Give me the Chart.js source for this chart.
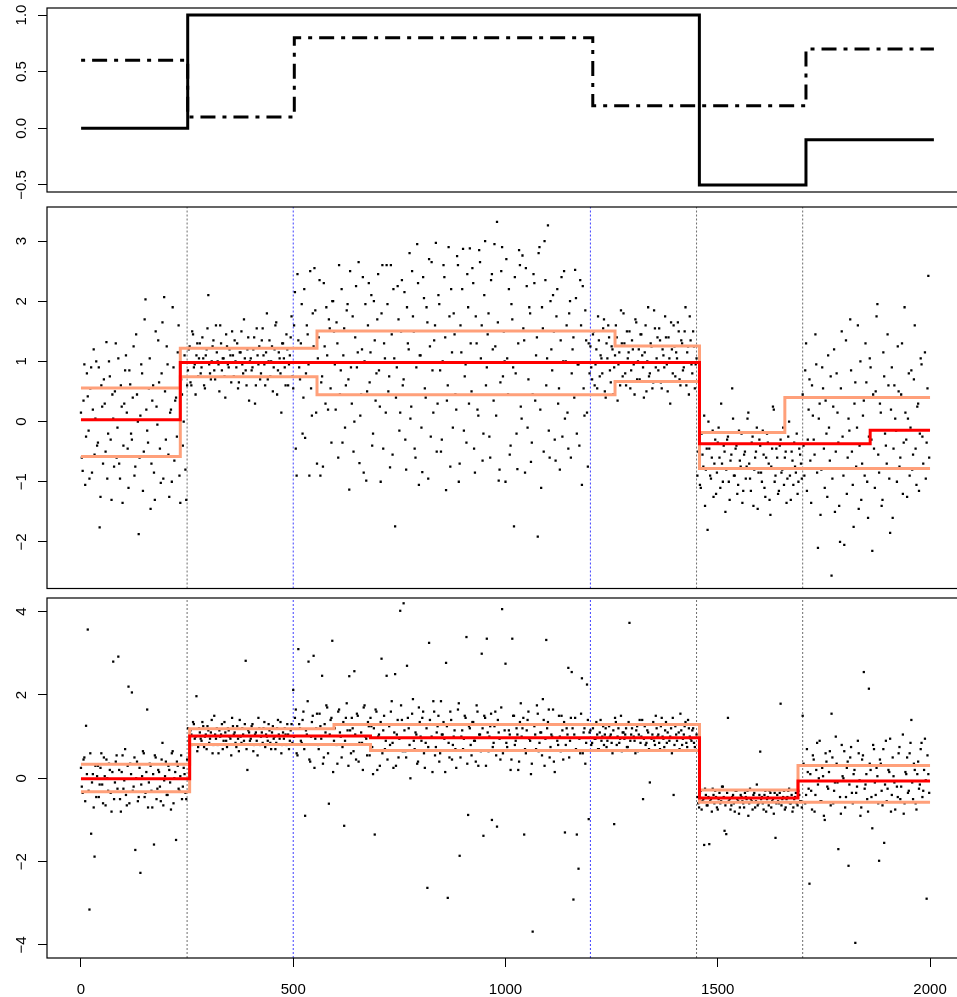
<!DOCTYPE html>
<html>
<head>
<meta charset="utf-8">
<script src="https://cdn.jsdelivr.net/npm/chart.js@4.4.1/dist/chart.umd.min.js"></script>
<style>
  html, body { margin: 0; padding: 0; background: #fff; overflow: hidden; }
  .panel { position: absolute; left: 0; }
  canvas { display: block; }
</style>
</head>
<body>
<div class="panel" style="top:0px"><canvas id="c1" width="968" height="200"></canvas></div>
<div class="panel" style="top:200px"><canvas id="c2" width="968" height="395"></canvas></div>
<div class="panel" style="top:590px"><canvas id="c3" width="968" height="407"></canvas></div>
<script>
// observations: series A at time 4i, series B at time 4i+2
const obsStep = 4;
const xEnd = 2000;
const xTicks = [0, 500, 1000, 1500, 2000];
const xLabels = ['0', '500', '1000', '1500', '2000'];

// top panel: true mean (solid) and true sd (dot-dash)
const meanStarts = [0, 250, 1450, 1700];
const trueMean = [0, 1, -0.5, -0.1];
const sdStarts = [0, 250, 500, 1200, 1700];
const trueSd = [0.6, 0.1, 0.8, 0.2, 0.7];
const topTicks = [-0.5, 0, 0.5, 1];
const topLabels = ['\u22120.5', '0.0', '0.5', '1.0'];

// vertical markers
const changePoints = [250, 1450, 1700];
const sdPoints = [500, 1200];

// middle panel
const midTicks = [-2, -1, 0, 1, 2, 3];
const midLabels = ['\u22122', '\u22121', '0', '1', '2', '3'];
const midY = [
  0.15, -0.82, 0.95, -0.25, 0.42, -0.95, 0.9, 0.2, -0.55, 1.0,
  -0.35, -1.76, 0.6, -0.7, 0.3, 1.32, -0.2, 0.75, -1.3, 0.05,
  0.5, -0.6, 1.05, -0.95, 0.25, -0.4, 0.85, 0.15, -1.1, 0.62,
  -0.3, 1.25, -0.75, 0.45, -1.87, 0.1, 0.8, -0.5, 2.03, -0.15,
  0.55, -1.45, 0.35, -0.85, 1.5, -0.05, 0.65, -1.02, 1.65, 2.07,
  -0.3, 0.95, -1.25, 0.2, 1.9, -0.65, 0.4, 1.15, -0.9, 0.7,
  -0.4, 1.1, -1.3, 0.85, 1.25, 0.6, 1.45, 0.95, 1.1, 0.75,
  1.3, 0.9, 1.05, 0.55, 1.2, 2.1, 0.8, 1.0, 1.35, 0.7,
  1.15, 0.95, 1.6, 0.85, 1.05, 0.4, 1.25, 0.9, 1.1, 1.5,
  0.75, 1.0, 1.3, 0.65, 1.15, 0.95, 1.7, 0.85, 1.2, 0.35,
  1.05, 0.9, 1.4, 0.6, 1.1, 1.25, 0.8, 1.55, 0.95, 1.15,
  0.7, 1.35, 1.0, 0.5, 1.2, 1.65, 0.85, 1.05, 0.15, 1.3,
  0.9, 1.45, 0.6, 1.1, 1.75, 0.55, 2.15, -0.9, 1.35, 0.7,
  1.95, 0.4, -0.27, 1.6, 0.95, 2.5, 0.1, 1.25, 1.85, -0.7,
  1.4, -0.9, 0.75, 2.3, 0.3, 1.1, 1.7, 0.55, 2.0, 1.5,
  0.2, 1.3, 2.6, 0.85, -0.35, 1.55, 0.6, 1.95, -1.13, 0.9,
  1.75, 0.0, 2.25, 1.15, -0.69, 0.45, 2.4, 1.0, -0.98, 1.6,
  0.65, 2.1, -0.2, 1.35, 0.8, 2.45, 0.25, 1.8, -0.45, 1.05,
  2.6, 0.5, -0.76, 1.45, 2.2, -1.74, 0.9, 1.7, 0.15, 2.35,
  0.7, -0.3, 1.9, 1.2, 0.05, 2.5, 1.5, -0.6, 2.95, -1.05,
  1.1, -0.84, 2.05, 0.4, 1.65, 2.7, -0.25, 0.85, 1.35, 2.97,
  0.3, 1.95, -0.5, 1.0, 2.4, -1.14, 0.6, 1.75, 2.2, -0.1,
  1.45, 0.2, 2.6, -0.7, 1.15, 2.87, 0.75, -0.35, 1.9, 2.88,
  0.5, 2.3, -0.85, 1.3, 0.1, 2.65, 1.6, -0.2, 3.0, 0.9,
  1.8, -0.6, 2.45, 0.35, 1.25, 3.32, -0.98, 0.65, 2.9, 1.5,
  -1.0, 1.05, 2.2, -0.4, 1.7, -1.74, 0.8, -0.79, 2.85, 0.25,
  2.76, 1.35, 2.55, -0.1, 1.9, -0.67, 0.45, 2.3, 1.1, -1.91,
  2.9, -1.1, 1.55, 3.0, 0.6, 3.26, -0.6, 1.2, 2.1, -0.3,
  1.75, 0.3, -0.8, 2.4, 1.0, 0.05, 1.6, -0.45, 2.0, 0.8,
  1.4, 2.52, -0.2, 0.95, 2.35, -1.05, 0.55, 1.85, 0.15, 1.3,
  1.25, 0.7, 1.5, 0.95, 0.55, 1.35, 1.1, 0.8, 1.7, 0.4,
  1.05, 1.4, 0.65, 1.2, 0.9, 1.6, 0.35, 1.15, 1.85, 0.75,
  1.3, 0.6, 1.05, 1.5, 0.85, 1.2, 0.45, 1.65, 1.0, 0.7,
  1.45, 0.9, 1.15, 0.5, 1.9, 0.8, 1.25, 0.65, 1.55, 1.05,
  0.85, 1.35, 0.55, 1.1, 1.75, 0.95, 1.4, 0.3, 1.2, 1.6,
  0.75, 1.05, 1.5, 0.6, 1.3, 0.9, 1.9, 1.15, 0.45, 1.35,
  0.8, 1.25, 0.95, -0.9, -0.3, -1.1, -0.55, 0.1, -0.8, -1.8,
  -0.45, -0.95, -0.15, -0.7, -1.2, -0.35, -0.6, 0.3, -1.0, -0.5,
  -0.8, -0.25, -1.3, -0.55, 0.05, -0.9, -0.4, -1.05, -0.65, -0.2,
  -1.15, -0.5, -0.75, 0.15, -0.95, -0.35, -1.4, -0.6, -0.1, -0.85,
  -0.4, -1.0, -0.55, -1.25, -0.2, -0.7, -1.55, -0.45, 0.2, -0.9,
  -0.6, -1.15, -0.3, -0.8, -1.05, -0.5, -0.95, 0.0, -1.3, -0.65,
  -0.35, -0.85, -1.2, -0.45, -0.7, 0.45, -0.9, 1.3, -0.3, 0.7,
  -1.35, 0.1, -0.55, 0.95, -2.1, 0.3, -0.8, 0.55, -1.1, -0.2,
  1.1, -0.65, -2.56, 0.25, -1.5, 0.8, -0.35, -2.0, 1.5, -0.9,
  0.4, -1.2, 0.05, 1.7, -0.5, -1.75, 0.65, -0.1, -1.45, 1.0,
  -0.7, 0.35, 1.3, -1.0, -0.25, 0.9, -2.15, -0.45, 0.5, 1.95,
  -0.85, 0.15, -1.3, 0.75, -0.4, 1.45, -0.95, 0.2, -1.6, 0.6,
  -0.15, 1.25, -0.75, 0.45, -1.2, 1.9, -0.3, 0.05, -0.9, 0.85,
  -0.55, 1.6, -1.05, 0.3, -0.2, 0.95, -0.7, 1.15, -0.35, 2.42
];
const midY2 = [
  -0.6, 0.35, -1.05, 0.8, -0.15, 0.55, -0.85, 1.2, 0.05, -0.4,
  0.9, -1.25, 0.25, 0.7, -0.5, -0.95, 1.0, -0.3, 0.45, -0.75,
  1.3, -0.1, -0.7, 0.6, -1.35, 0.3, 1.1, -0.45, 0.85, -0.2,
  0.4, -0.9, 1.45, 0.0, -0.6, 0.95, -1.15, 1.7, 0.2, -0.35,
  1.05, -0.7, 0.6, -1.3, 0.25, 1.35, -0.45, 0.8, -0.95, 0.5,
  1.25, -0.55, 0.15, -1.0, 0.9, 0.35, -0.25, 1.6, -1.35, 0.45,
  0.0, -0.8, 0.6, 1.2, 0.65, 1.5, 0.9, 0.45, 1.3, 1.05,
  0.8, 1.4, 0.6, 1.1, 1.55, 0.95, 0.7, 1.25, 0.85, 1.6,
  1.0, 0.5, 1.3, 1.05, 0.75, 1.45, 0.95, 1.2, 0.65, 1.1,
  1.35, 0.9, 0.55, 1.15, 1.5, 0.8, 1.05, 0.6, 1.4, 1.0,
  0.85, 1.2, 0.3, 1.55, 0.95, 0.7, 1.35, 1.1, 0.6, 1.8,
  1.0, 0.75, 1.25, 0.9, 1.6, 0.45, 1.15, 0.8, 1.3, 1.05,
  0.6, 1.2, 0.95, 1.4, 0.75, 1.6, -0.45, 2.45, 0.9, 1.3,
  -0.2, 2.2, 0.8, 1.45, -0.9, 0.55, 1.8, 2.55, 0.15, 1.05,
  2.35, 0.65, -0.75, 1.25, 1.9, 0.2, 1.55, -0.35, 2.0, 0.95,
  1.65, -0.6, 0.45, 2.2, 1.1, -0.1, 1.85, 0.7, 2.5, 0.3,
  -0.5, 1.4, 0.9, 2.65, 0.1, 1.2, -0.85, 1.95, 0.5, 2.3,
  1.15, -0.4, 2.0, 0.35, 1.7, 0.85, -1.0, 2.6, 1.3, 0.15,
  1.95, 0.75, 2.6, -0.55, 1.05, 0.4, 2.25, -0.15, 1.5, 0.6,
  2.15, -0.8, 1.3, 2.8, 0.25, 1.75, -0.45, 0.9, 2.3, 1.1,
  -0.1, 2.4, 0.55, 1.9, -0.95, 1.25, 2.65, 0.15, 1.6, -0.5,
  2.1, 0.85, -0.3, 2.6, 1.4, 0.35, 2.9, -0.75, 1.15, 1.8,
  0.45, 2.75, -1.0, 1.6, 2.2, -0.15, 0.95, 2.45, 0.3, 1.3,
  2.55, -0.45, 1.75, 0.2, 2.85, 1.05, -0.65, 2.1, 0.6, 1.45,
  -0.25, 2.35, 1.2, 2.95, 0.1, 1.65, -0.8, 2.5, 0.75, 1.0,
  2.7, 0.45, -0.55, 1.95, 0.9, 2.4, -0.2, 1.3, 2.6, 0.05,
  1.55, -0.85, 2.25, 0.7, 1.8, -0.35, 2.45, 0.35, 1.4, 2.8,
  0.2, 1.9, -0.5, 2.35, 1.05, -0.15, 2.0, 0.85, 1.5, -0.65,
  2.2, 0.55, 1.35, -0.25, 2.5, 1.0, 0.15, 1.8, -0.6, 1.2,
  0.4, 2.05, 0.95, -0.4, 1.6, 2.25, 0.1, 1.35, -0.75, 0.8,
  0.9, 1.45, 0.6, 1.2, 1.75, 0.75, 1.05, 1.55, 0.5, 1.3,
  1.6, 0.85, 1.25, 0.45, 1.1, 1.4, 0.95, 0.6, 1.3, 1.8,
  0.8, 1.5, 1.15, 0.55, 1.35, 0.95, 1.7, 0.7, 1.2, 1.45,
  1.1, 0.4, 1.6, 1.0, 0.75, 1.3, 0.55, 1.85, 0.9, 1.4,
  1.55, 0.65, 1.2, 0.9, 1.4, 0.5, 1.05, 1.65, 0.8, 1.25,
  1.15, 1.65, 0.7, 1.35, 0.85, 1.5, 0.6, 1.25, 1.75, 0.95,
  1.5, 0.55, 1.05, -0.5, -1.05, -0.2, -0.75, -1.4, -0.45, 0.0,
  -0.9, -0.6, -1.25, -0.3, -0.85, -0.1, -1.1, -0.7, -0.4, -1.5,
  -0.3, -1.0, -0.65, 0.55, -0.9, -0.45, -1.2, -0.15, -0.75, -1.35,
  -0.55, -0.95, 0.05, -0.7, -1.15, -0.25, -0.8, -0.5, -1.45, -0.3,
  -0.85, -0.15, -1.1, -0.6, -0.35, -1.3, -0.75, 0.25, -1.0, -0.45,
  -1.2, -0.4, -0.85, -0.1, -0.6, -1.35, -0.25, -0.9, -0.5, -1.05,
  -0.75, -0.2, -1.0, -0.55, -0.95, -0.4, 0.85, -1.15, 0.2, -0.65,
  0.6, -0.3, 1.45, -0.85, 0.05, -1.55, 0.9, -0.45, 0.35, -1.25,
  -0.1, 0.75, -0.95, 1.2, -0.5, 0.15, -1.4, 0.55, -0.25, -2.05,
  1.35, -0.6, -0.15, 0.85, -1.05, 0.3, -0.75, 1.6, -0.4, -1.3,
  0.1, -0.9, 0.65, -1.6, 1.05, -0.3, 0.45, -1.1, 1.75, -0.55,
  0.3, -1.4, 1.15, -0.2, -0.7, 0.6, -1.85, 0.9, -0.45, 0.05,
  -1.0, 0.5, -0.6, 1.3, -0.35, 0.15, -1.25, 0.8, -0.1, -0.8,
  0.7, -0.45, 0.25, -1.15, 1.05, -0.25, 0.4, -0.95, 0.55, -0.6
];
const midFitStarts = [0, 234, 1457, 1859];
const midFit = [0.03, 0.98, -0.37, -0.145];
const midUpStarts = [0, 234, 556, 1258, 1457, 1658];
const midUp = [0.56, 1.22, 1.505, 1.255, -0.18, 0.40];
const midLoStarts = [0, 234, 556, 1258, 1457];
const midLo = [-0.58, 0.745, 0.445, 0.667, -0.78];

// bottom panel
const botTicks = [-4, -2, 0, 2, 4];
const botLabels = ['\u22124', '\u22122', '0', '2', '4'];
const botY = [
  0.25, -0.35, 0.5, 1.26, 3.57, -3.15, -1.33, 0.1, -1.88, -0.45,
  0.3, -0.15, 0.6, -0.6, 0.05, 0.45, -0.3, 0.2, -0.8, 2.8,
  -0.1, 0.55, 2.92, -0.5, 0.15, -0.25, 0.7, -0.65, 2.2, 0.35,
  2.06, -0.2, -1.72, 0.4, -0.45, -2.27, 0.05, 0.6, -0.35, 1.65,
  -0.1, 0.3, -0.7, -1.59, 0.5, -0.25, 0.15, -0.55, 0.85, -0.05,
  0.4, -0.4, 0.2, -0.75, 0.65, 0.0, -1.48, 0.3, -0.3, 0.55,
  -0.2, 0.1, -0.5, 1.2, 0.85, 1.05, 1.35, 0.95, 1.97, 0.75,
  1.1, 0.9, 1.25, 1.0, 0.7, 1.15, 0.95, 1.4, 0.8, 1.05,
  1.2, 0.6, 1.0, 1.3, 0.9, 1.1, 0.75, 1.15, 0.95, 1.45,
  1.05, 0.85, 1.25, 0.65, 1.0, 1.2, 0.9, 2.82, 0.2, 1.1,
  0.95, 1.3, 0.8, 1.1, 0.55, 1.2, 1.0, 0.85, 1.35, 1.05,
  0.9, 1.15, 0.7, 1.25, 1.0, 0.85, 1.4, 0.95, 0.6, 1.1,
  1.2, 0.8, 1.05, 0.9, 1.3, 2.12, 1.45, 0.6, 3.1, 1.2,
  0.85, 1.6, -0.9, 1.05, 2.8, 0.4, 1.35, 2.94, 0.95, 1.55,
  0.7, 1.25, 2.46, 0.5, 1.1, 1.7, -0.61, 1.4, 3.3, 0.9,
  1.3, 0.35, 1.65, 1.0, 0.75, -1.14, 1.45, 1.15, 2.45, 0.6,
  1.2, 2.57, 0.45, 1.5, 0.85, 1.1, 0.2, 1.75, 0.95, 1.35,
  0.55, 1.25, 0.1, -1.35, 1.6, 1.0, 0.3, 2.87, 1.15, 0.7,
  2.46, 1.3, 0.8, 1.85, 0.25, 2.5, 1.05, 0.5, 4.02, 1.4,
  4.2, 0.65, 2.7, 1.2, 0.0, 1.55, 0.9, 1.1, 0.35, 1.7,
  1.0, 1.45, 0.6, 0.85, -2.63, 3.25, 1.3, 0.15, 1.6, 0.75,
  1.25, 0.4, 1.85, 1.05, 0.95, 2.77, -2.87, 0.5, 1.4, 0.8,
  1.15, 0.25, 1.65, -1.86, 1.0, 0.7, 1.5, 3.39, -0.88, 1.2,
  0.55, 1.35, 0.9, 1.75, 0.3, 1.05, 2.99, -1.38, 1.45, 3.35,
  0.65, 1.25, -1.0, 0.85, 1.6, -1.16, 1.1, 0.45, 4.06, 1.3,
  2.75, 0.75, 1.15, 0.2, 3.35, 1.5, 0.9, 1.05, 0.4, 1.8,
  1.2, -1.35, 0.6, 1.4, 0.95, 0.1, -3.68, 1.25, 0.7, 1.55,
  0.85, 1.1, 1.9, 0.3, 3.32, 1.35, 0.5, 1.05, 1.65, 0.15,
  1.3, 0.8, 1.0, 1.5, 0.45, -1.3, 1.2, 2.65, 0.9, 2.55,
  -2.91, 1.45, -1.35, -2.17, 0.6, 2.4, 1.1, 0.35, 2.25, -0.98,
  1.15, 0.85, 1.3, 0.95, 1.05, 0.7, 1.4, 1.0, 0.8, 1.2,
  0.9, 1.25, 1.05, 0.6, -1.1, 1.35, 1.0, 0.85, 1.5, 1.1,
  0.95, 1.2, 0.75, 3.73, 1.05, 1.3, 0.9, 1.15, 0.65, 1.4,
  1.0, -0.5, 1.25, 0.85, 1.1, -0.1, 0.95, 1.35, 0.8, 1.2,
  1.05, 0.7, 1.45, 0.95, 1.15, 0.85, 1.3, 1.0, 0.6, -0.4,
  1.25, 0.9, 1.1, 1.55, 0.8, 1.05, 1.35, 0.75, 1.2, 0.95,
  1.15, 0.85, 1.3, -0.45, -0.7, -0.3, -0.55, -1.6, -0.4, -0.65,
  -1.58, -0.5, -0.25, -0.6, -0.45, -0.75, -0.35, -0.55, -0.2, -1.26,
  -1.34, 1.45, -0.5, -0.65, -0.4, -0.8, -0.3, -0.55, -0.7, -0.45,
  -0.6, -0.35, -0.5, -0.9, -0.25, -0.55, -0.4, -0.7, -0.15, -0.6,
  0.64, -0.45, -0.75, -0.3, -0.5, -0.65, -0.35, -0.55, -0.85, -1.43,
  -0.4, -0.6, 1.79, -0.5, -0.3, -0.7, -0.45, -0.25, -0.6, -0.8,
  -0.5, -0.35, -0.65, -0.4, -0.55, 1.5, 0.3, -0.4, 0.15, -2.53,
  -0.3, 0.55, -0.8, 0.2, -0.15, 0.9, -0.55, 0.05, -1.0, 0.4,
  -0.25, 0.65, 1.55, -0.6, -0.1, 0.35, -1.7, -0.45, 0.8, 0.0,
  -0.7, 0.25, -2.1, 0.5, -0.35, 0.1, -3.95, -0.2, 0.6, -0.9,
  0.45, 2.55, -0.15, -0.5, 2.15, 0.2, -1.2, 0.7, -0.4, 0.05,
  -1.98, 0.35, -0.65, -1.55, 0.9, -0.25, 0.15, -0.8, 0.5, -0.1,
  0.3, -0.45, 0.75, -0.2, 1.05, -0.6, 0.1, -0.35, 0.6, 1.4,
  -0.5, 0.2, -0.75, 0.4, -0.15, 0.85, -0.3, 0.95, -2.89, 0.1
];
const botY2 = [
  -0.2, 0.45, -0.55, 0.1, -0.3, 0.6, -0.1, -0.7, 0.3, 0.05,
  -0.45, 0.25, -0.15, 0.5, -0.65, 0.0, 0.35, -0.35, 0.15, -0.5,
  0.4, -0.25, 0.2, -0.8, 0.55, -0.05, -0.4, 0.3, -0.6, 0.1,
  -0.3, 0.5, 0.0, -0.55, 0.25, -0.15, 0.65, -0.45, 0.15, -0.7,
  0.35, -0.3, 0.1, 0.55, -0.5, 0.2, -0.2, 0.45, -0.65, 0.05,
  -0.4, 0.3, -0.1, 0.6, -0.6, 0.15, 0.4, -0.25, 0.05, -0.5,
  0.25, -0.35, 0.45, 0.9, 1.15, 0.8, 1.3, 1.0, 0.65, 1.2,
  0.95, 1.35, 0.75, 1.05, 1.25, 0.85, 1.1, 0.6, 1.5, 0.95,
  0.8, 1.15, 1.05, 0.7, 1.35, 0.9, 1.2, 1.0, 0.55, 1.25,
  1.1, 0.75, 0.95, 1.4, 0.85, 1.05, 1.3, 0.7, 1.15, 0.9,
  1.25, 0.65, 1.05, 0.9, 1.45, 0.8, 1.1, 1.2, 0.75, 1.0,
  1.3, 0.85, 1.1, 0.95, 0.7, 1.2, 1.05, 1.35, 0.8, 0.95,
  1.05, 1.3, 0.7, 1.15, 0.85, 1.0, 1.65, 0.55, 1.3, 0.9,
  1.4, 0.7, 1.15, 1.85, 0.45, 1.0, 1.5, 0.25, 1.2, 0.8,
  1.55, 0.95, 0.35, 1.3, 1.75, 0.6, 1.05, 1.45, 0.15, 1.2,
  0.8, 1.6, 1.1, 0.5, 1.35, 0.9, 1.8, 0.3, 1.15, 1.45,
  0.65, 1.05, 1.55, 0.4, 1.3, 0.85, 1.7, 1.0, 0.55, 1.25,
  1.45, 0.75, 1.2, 1.65, 0.2, 1.05, 1.35, 0.6, 1.5, 0.9,
  0.45, 1.25, 1.6, 0.85, 1.1, 0.3, 1.4, 0.95, 1.75, 0.65,
  1.15, 0.5, 1.45, 0.8, 1.3, 1.9, 0.7, 1.05, 0.4, 1.35,
  0.9, 1.6, 0.25, 1.2, 0.75, 1.4, 1.0, 1.85, 0.55, 1.1,
  1.5, 0.6, 1.05, 1.35, 0.15, 1.25, 0.85, 1.6, 0.45, 1.0,
  0.7, 1.3, 1.8, 0.5, 1.15, 0.95, 1.45, 0.35, 1.25, 0.8,
  1.35, 0.9, 0.4, 1.6, 1.05, 0.65, 1.2, 1.5, 0.3, 1.1,
  1.0, 1.55, 0.75, 1.25, 0.55, 1.4, 0.95, 1.7, 0.6, 1.15,
  0.85, 1.3, 1.05, 0.45, 1.5, 0.8, 1.2, 0.2, 1.35, 1.0,
  1.45, 0.7, 1.15, 1.6, 0.9, 0.35, 1.3, 1.05, 1.75, 0.65,
  1.1, 0.55, 1.4, 0.95, 1.2, 1.65, 0.75, 1.0, 0.4, 1.3,
  0.9, 1.5, 0.65, 1.15, 1.35, 0.8, 1.05, 0.5, 1.45, 1.2,
  1.05, 0.7, 1.3, 0.95, 1.55, 0.6, 1.2, 0.85, 1.4, 1.1,
  0.8, 1.2, 0.95, 1.35, 0.7, 1.1, 0.9, 1.25, 1.05, 0.75,
  1.3, 1.0, 0.85, 1.15, 1.45, 0.8, 1.2, 0.95, 0.65, 1.1,
  1.05, 0.75, 1.35, 0.9, 1.2, 1.0, 0.6, 1.25, 1.05, 0.85,
  1.4, 0.95, 0.8, 1.15, 0.7, 1.3, 1.05, 0.9, 1.5, 1.0,
  0.85, 1.25, 1.0, 0.75, 1.35, 1.1, 0.9, 1.2, 1.45, 0.8,
  1.05, 1.3, 0.7, 1.15, 0.95, 1.25, 0.85, 1.4, 1.0, 0.9,
  1.2, 0.75, 1.05, -0.6, -0.35, -0.75, -0.5, -0.25, -0.65, -0.45,
  -0.55, -0.8, -0.4, -0.3, -0.7, -0.5, -0.6, -0.2, -0.45, -0.65,
  -0.35, -0.55, -0.75, -0.45, -0.6, -0.3, -0.5, -0.85, -0.4, -0.55,
  -0.7, -0.45, -0.3, -0.6, -0.5, -0.75, -0.35, -0.55, -0.65, -0.4,
  -0.5, -0.6, -0.4, -0.8, -0.45, -0.3, -0.7, -0.5, -0.35, -0.6,
  -0.55, -0.35, -0.65, -0.45, -0.75, -0.5, -0.3, -0.6, -0.4, -0.7,
  -0.45, -0.6, -0.3, -0.55, -0.7, 0.35, -0.6, 0.7, -0.25, 0.1,
  -0.75, 0.45, -0.4, 0.85, 0.0, -0.55, 0.25, -0.9, 0.6, -0.2,
  0.15, -0.65, 0.5, -0.3, 1.0, -0.1, 0.3, -0.85, 0.05, 0.65,
  -0.45, 0.4, -0.15, 0.75, -0.6, 0.2, -0.35, 0.9, -0.05, -0.7,
  0.55, -0.25, 0.1, -0.8, 0.35, -0.45, 0.8, -0.1, 0.25, -0.6,
  0.45, -0.3, 0.7, -0.15, -0.55, 0.2, 0.95, -0.4, 0.05, -0.75,
  -0.2, 0.6, -0.5, 0.3, -0.85, 0.15, 0.5, -0.3, 0.85, -0.1,
  0.35, -0.6, 0.1, -0.25, 0.7, -0.45, 0.2, -0.05, 0.55, -0.35
];
const botFitStarts = [0, 256, 682, 1457, 1689];
const botFit = [-0.01, 1.015, 0.975, -0.47, -0.065];
const botUpStarts = [0, 256, 596, 1457, 1689];
const botUp = [0.34, 1.19, 1.29, -0.28, 0.31];
const botLoStarts = [0, 256, 682, 1457];
const botLo = [-0.32, 0.81, 0.665, -0.575];

const RED = '#ff0000';
const SALMON = '#ffa07a';
const FONT = '15px "Liberation Sans", Arial, Helvetica, sans-serif';

function steps(starts, vals) {
  const pts = starts.map((s, i) => ({ x: s, y: vals[i] }));
  pts.push({ x: xEnd, y: vals[vals.length - 1] });
  return pts;
}

function stepLine(starts, vals, color, width, dash) {
  return {
    data: steps(starts, vals),
    borderColor: color,
    borderWidth: width,
    borderDash: dash || [],
    borderCapStyle: 'butt',
    stepped: 'before',
    pointRadius: 0,
    fill: false
  };
}

function vline(x, lo, hi, color) {
  return {
    data: [{ x: x, y: lo }, { x: x, y: hi }],
    borderColor: color,
    borderWidth: 1,
    borderDash: [2, 2],
    pointRadius: 0,
    fill: false
  };
}

function dots(ys, offset) {
  return {
    data: ys.map((y, i) => ({ x: i * obsStep + offset, y: y })),
    showLine: false,
    pointStyle: 'rect',
    pointRadius: 1.6,
    pointBackgroundColor: '#000',
    pointBorderWidth: 0
  };
}

const framePlugin = {
  id: 'frame',
  afterDraw(chart, args, opts) {
    const { ctx, chartArea: a } = chart;
    ctx.save();
    ctx.strokeStyle = '#000';
    ctx.lineWidth = 1.2;
    ctx.strokeRect(a.left, a.top, a.right - a.left, a.bottom - a.top);
    ctx.fillStyle = '#000';
    ctx.font = FONT;
    ctx.textAlign = 'center';
    ctx.textBaseline = 'alphabetic';
    const ys = chart.scales.y;
    opts.yTicks.forEach((v, i) => {
      ctx.save();
      ctx.translate(26, ys.getPixelForValue(v));
      ctx.rotate(-Math.PI / 2);
      ctx.fillText(opts.yLabels[i], 0, 0);
      ctx.restore();
    });
    if (opts.showX) {
      const xs = chart.scales.x;
      xTicks.forEach((v, i) => {
        ctx.fillText(xLabels[i], xs.getPixelForValue(v), a.bottom + 35.5);
      });
    }
    ctx.restore();
  }
};

function makePanel(id, yMin, yMax, yTicks, yLabels, datasets, padTop, padBottom, showX) {
  const tickGrid = { drawOnChartArea: false, drawTicks: true, tickLength: 9, color: '#000', lineWidth: 1 };
  new Chart(document.getElementById(id), {
    type: 'line',
    data: { datasets: datasets },
    options: {
      responsive: false,
      animation: false,
      devicePixelRatio: 1,
      layout: { padding: { top: padTop, bottom: padBottom, left: 0, right: 0 } },
      plugins: {
        legend: { display: false },
        tooltip: { enabled: false },
        frame: { yTicks: yTicks, yLabels: yLabels, showX: showX }
      },
      scales: {
        x: {
          type: 'linear',
          min: -80,
          max: 2080,
          display: showX,
          afterBuildTicks: s => { s.ticks = xTicks.map(v => ({ value: v })); },
          ticks: { display: false },
          grid: tickGrid,
          border: { display: false },
          afterFit: s => { s.height = showX ? 39 : 0; }
        },
        y: {
          type: 'linear',
          min: yMin,
          max: yMax,
          afterBuildTicks: s => { s.ticks = yTicks.map(v => ({ value: v })); },
          ticks: { display: false },
          grid: tickGrid,
          border: { display: false },
          afterFit: s => { s.width = 47; }
        }
      }
    },
    plugins: [framePlugin]
  });
}

// top panel
makePanel('c1', -0.562, 1.062, topTicks, topLabels, [
  stepLine(meanStarts, trueMean, '#000', 3),
  stepLine(sdStarts, trueSd, '#000', 3, [4, 7, 15, 7])
], 8, 8, false);

function markers(lo, hi) {
  return changePoints.map(x => vline(x, lo, hi, 'rgba(60,60,60,0.75)'))
    .concat(sdPoints.map(x => vline(x, lo, hi, 'rgba(0,0,255,0.75)')));
}

// middle panel
makePanel('c2', -2.774, 3.566, midTicks, midLabels, [
  stepLine(midFitStarts, midFit, RED, 3),
  stepLine(midUpStarts, midUp, SALMON, 3),
  stepLine(midLoStarts, midLo, SALMON, 3),
  dots(midY, 0),
  dots(midY2, 2)
].concat(markers(-2.774, 3.566)), 7, 6.5, false);

// bottom panel
makePanel('c3', -4.313, 4.327, botTicks, botLabels, [
  stepLine(botFitStarts, botFit, RED, 3),
  stepLine(botUpStarts, botUp, SALMON, 3),
  stepLine(botLoStarts, botLo, SALMON, 3),
  dots(botY, 0),
  dots(botY2, 2)
].concat(markers(-4.313, 4.327)), 8, 0, true);
</script>
</body>
</html>
